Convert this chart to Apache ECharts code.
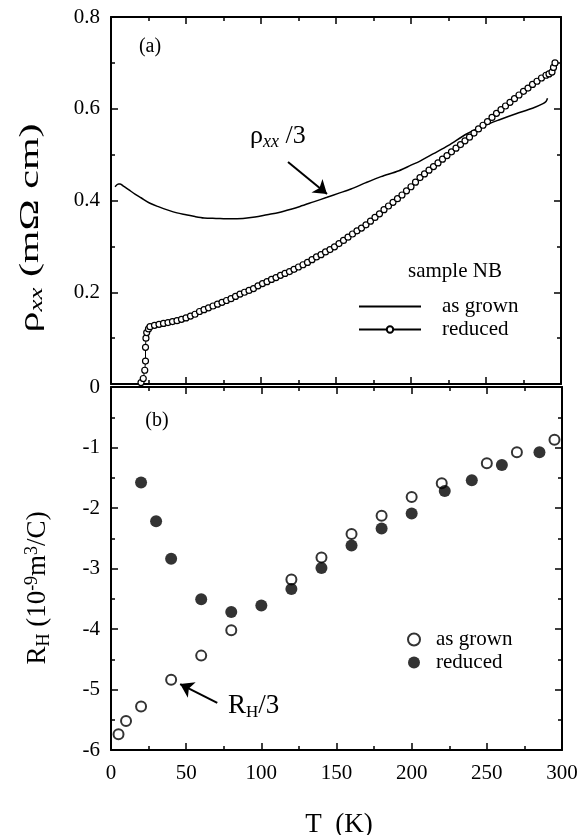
<!DOCTYPE html>
<html>
<head>
<meta charset="utf-8">
<script src="https://cdn.jsdelivr.net/npm/echarts@6/dist/echarts.min.js"></script>
<style>
  html, body { margin: 0; padding: 0; background: #fff; }
  #chart { width: 582px; height: 835px; }
</style>
</head>
<body>
<div id="chart"></div>
<script>
// panel (a): rho_xx vs T
const grownT = [2.7, 5, 6, 8, 12, 16, 20, 26, 32, 38, 44, 50, 56, 62, 70, 80, 88, 96, 104, 112,
  120, 126, 135, 144, 152, 160, 170, 180, 192, 200, 206, 215, 225, 237, 248, 259, 270, 281, 288, 290, 291]
const grownRho = [0.430, 0.436, 0.436, 0.432, 0.423, 0.414, 0.406, 0.394, 0.386, 0.379, 0.373, 0.369,
  0.365, 0.362, 0.361, 0.360, 0.361, 0.364, 0.369, 0.374, 0.381, 0.387, 0.397, 0.407, 0.416, 0.425,
  0.439, 0.452, 0.465, 0.477, 0.486, 0.502, 0.520, 0.545, 0.562, 0.576, 0.589, 0.601, 0.611, 0.616, 0.623]

const reducedT = [20, 21.5, 22.5, 23, 23, 23.3, 23.8, 25, 26, 29, 32, 35, 38, 41, 44, 47, 50, 53, 56, 59,
  62, 65, 68, 71, 74, 77, 80, 83, 86, 89, 92, 95, 98, 101, 104, 107, 110, 113, 116, 119, 122, 125,
  128, 131, 134, 137, 140, 143, 146, 149, 152, 155, 158, 161, 164, 167, 170, 173, 176, 179, 182,
  185, 188, 191, 194, 197, 200, 203, 206, 209, 212, 215, 218, 221, 224, 227, 230, 233, 236, 239,
  242, 245, 248, 251, 254, 257, 260, 263, 266, 269, 272, 275, 278, 281, 284, 287, 290, 292, 294, 295, 296]
const reducedRho = [0.003, 0.012, 0.03, 0.05, 0.08, 0.10, 0.112, 0.120, 0.125, 0.128, 0.130, 0.132,
  0.134, 0.136, 0.138, 0.141, 0.144, 0.148, 0.152, 0.158, 0.162, 0.166, 0.170, 0.174, 0.178, 0.182,
  0.186, 0.191, 0.196, 0.200, 0.204, 0.208, 0.214, 0.219, 0.223, 0.228, 0.232, 0.237, 0.241, 0.245,
  0.250, 0.255, 0.260, 0.265, 0.271, 0.277, 0.282, 0.288, 0.293, 0.299, 0.306, 0.313, 0.320, 0.327,
  0.334, 0.340, 0.347, 0.355, 0.363, 0.371, 0.380, 0.388, 0.396, 0.404, 0.412, 0.421, 0.430, 0.440,
  0.450, 0.458, 0.466, 0.474, 0.482, 0.490, 0.498, 0.506, 0.514, 0.522, 0.530, 0.538, 0.547, 0.556,
  0.564, 0.572, 0.581, 0.590, 0.598, 0.606, 0.614, 0.622, 0.630, 0.638, 0.645, 0.653, 0.660, 0.667,
  0.673, 0.676, 0.680, 0.690, 0.700]

// panel (b): Hall coefficient
const hallGrownT = [5, 10, 20, 40, 60, 80, 120, 140, 160, 180, 200, 220, 250, 270, 295]
const hallGrown = [-5.74, -5.52, -5.28, -4.84, -4.44, -4.02, -3.18, -2.82, -2.43, -2.13, -1.82, -1.59, -1.26, -1.08, -0.87]
const hallReducedT = [20, 30, 40, 60, 80, 100, 120, 140, 160, 180, 200, 222, 240, 260, 285]
const hallReduced = [-1.58, -2.22, -2.84, -3.51, -3.72, -3.61, -3.34, -2.99, -2.62, -2.34, -2.09, -1.72, -1.54, -1.29, -1.08]

const FONT = 'Liberation Serif'
const zip = (xs, ys) => xs.map((x, i) => [x, ys[i]])

const chart = echarts.init(document.getElementById('chart'))

function baseAxis(extra) {
  return Object.assign({
    type: 'value',
    axisLine: { show: true, onZero: false, lineStyle: { color: '#000', width: 2 } },
    axisTick: { show: true, inside: true, length: 7, lineStyle: { color: '#000', width: 1.5 } },
    minorTick: { show: true, splitNumber: 2, length: 4, lineStyle: { color: '#000', width: 1.5 } },
    splitLine: { show: false },
    axisLabel: { show: false }
  }, extra)
}

const labelStyle = { show: true, color: '#000', fontFamily: FONT, fontSize: 21 }

const option = {
  animation: false,
  backgroundColor: '#fff',
  grid: [
    { left: 111, right: 21, top: 17, height: 367 },
    { left: 111, right: 20, top: 387, height: 363 }
  ],
  xAxis: [
    baseAxis({ gridIndex: 0, position: 'bottom', min: 0, max: 300, interval: 50 }),
    baseAxis({ gridIndex: 0, position: 'top', min: 0, max: 300, interval: 50 }),
    baseAxis({ gridIndex: 1, position: 'bottom', min: 0, max: 300, interval: 50,
      axisLabel: Object.assign({}, labelStyle, { margin: 13 }) }),
    baseAxis({ gridIndex: 1, position: 'top', min: 0, max: 300, interval: 50 })
  ],
  yAxis: [
    baseAxis({ gridIndex: 0, position: 'left', min: 0, max: 0.8, interval: 0.2,
      axisLabel: Object.assign({}, labelStyle, { margin: 11, showMinLabel: false }) }),
    baseAxis({ gridIndex: 0, position: 'right', min: 0, max: 0.8, interval: 0.2 }),
    baseAxis({ gridIndex: 1, position: 'left', min: -6, max: 0, interval: 1,
      axisLabel: Object.assign({}, labelStyle, { margin: 11 }) }),
    baseAxis({ gridIndex: 1, position: 'right', min: -6, max: 0, interval: 1 })
  ],
  legend: [
    {
      orient: 'vertical', left: 353, top: 291,
      itemWidth: 62, itemHeight: 8, itemGap: 2,
      selectedMode: false,
      data: [
        { name: 'as grown', itemStyle: { color: 'rgba(0,0,0,0)', borderWidth: 0 } },
        { name: 'reduced' }
      ],
      textStyle: { color: '#000', fontFamily: FONT, fontSize: 21, padding: [0, 0, 0, 16] }
    },
    {
      orient: 'vertical', left: 402, top: 624,
      itemWidth: 12, itemHeight: 12, itemGap: 2,
      selectedMode: false,
      data: ['RH as grown', 'RH reduced'],
      formatter: (name) => name.replace('RH ', ''),
      textStyle: { color: '#000', fontFamily: FONT, fontSize: 21, padding: [0, 0, 0, 11] }
    }
  ],
  series: [
    {
      name: 'as grown', type: 'line', xAxisIndex: 0, yAxisIndex: 0,
      data: zip(grownT, grownRho), symbol: 'none', smooth: 0.3,
      lineStyle: { color: '#000', width: 1.5 },
      itemStyle: { color: '#000' },
      markLine: {
        silent: true, symbol: ['none', 'arrow'], symbolSize: 13,
        label: { show: false },
        lineStyle: { color: '#000', width: 2, type: 'solid' },
        data: [[{ coord: [118, 0.484] }, { coord: [144, 0.414] }]]
      }
    },
    {
      name: 'reduced', type: 'line', xAxisIndex: 0, yAxisIndex: 0,
      data: zip(reducedT, reducedRho), symbol: 'circle', symbolSize: 6, showAllSymbol: true,
      lineStyle: { color: '#000', width: 1 },
      itemStyle: { color: '#fff', borderColor: '#000', borderWidth: 1.2 }
    },
    {
      name: 'RH as grown', type: 'scatter', xAxisIndex: 2, yAxisIndex: 2,
      data: zip(hallGrownT, hallGrown), symbol: 'circle', symbolSize: 10,
      itemStyle: { color: '#fff', borderColor: '#000', borderWidth: 2 },
      markLine: {
        silent: true, symbol: ['none', 'arrow'], symbolSize: 13,
        label: { show: false },
        lineStyle: { color: '#000', width: 2, type: 'solid' },
        data: [[{ coord: [70.7, -5.22] }, { coord: [46, -4.91] }]]
      }
    },
    {
      name: 'RH reduced', type: 'scatter', xAxisIndex: 2, yAxisIndex: 2,
      data: zip(hallReducedT, hallReduced), symbol: 'circle', symbolSize: 12,
      itemStyle: { color: '#000' }
    }
  ],
  graphic: [
    // axis titles
    {
      type: 'text', x: 31, y: 228, rotation: Math.PI / 2, scaleX: 1.5,
      style: {
        text: '{a|ρ}{s|xx}{a| (mΩ cm)}',
        align: 'center', verticalAlign: 'middle', fill: '#000',
        rich: {
          a: { fontFamily: FONT, fontSize: 28, lineHeight: 30 },
          s: { fontFamily: FONT, fontSize: 18, fontStyle: 'italic', verticalAlign: 'bottom', lineHeight: 16 }
        }
      }
    },
    {
      type: 'text', x: 38, y: 588, rotation: Math.PI / 2,
      style: {
        text: '{a|R}{h|H}{a| (10}{p|-9}{a|m}{p|3}{a|/C)}',
        align: 'center', verticalAlign: 'middle', fill: '#000',
        rich: {
          a: { fontFamily: FONT, fontSize: 27, lineHeight: 30 },
          h: { fontFamily: FONT, fontSize: 18, verticalAlign: 'bottom', lineHeight: 14 },
          p: { fontFamily: FONT, fontSize: 18, verticalAlign: 'top', lineHeight: 14 }
        }
      }
    },
    {
      type: 'text', x: 339, y: 825,
      style: { text: 'T  (K)', font: '27px ' + FONT, fill: '#000', align: 'center', verticalAlign: 'middle' }
    },
    // annotations
    {
      type: 'text', x: 150, y: 47,
      style: { text: '(a)', font: '20px ' + FONT, fill: '#000', align: 'center', verticalAlign: 'middle' }
    },
    {
      type: 'text', x: 157, y: 421,
      style: { text: '(b)', font: '20px ' + FONT, fill: '#000', align: 'center', verticalAlign: 'middle' }
    },
    {
      type: 'text', x: 250, y: 136,
      style: {
        text: '{a|ρ}{s|xx}{a| /3}',
        align: 'left', verticalAlign: 'middle', fill: '#000',
        rich: {
          a: { fontFamily: FONT, fontSize: 26, lineHeight: 30 },
          s: { fontFamily: FONT, fontSize: 18, fontStyle: 'italic', verticalAlign: 'bottom', lineHeight: 16 }
        }
      }
    },
    {
      type: 'text', x: 228, y: 706,
      style: {
        text: '{a|R}{h|H}{a|/3}',
        align: 'left', verticalAlign: 'middle', fill: '#000',
        rich: {
          a: { fontFamily: FONT, fontSize: 27, lineHeight: 30 },
          h: { fontFamily: FONT, fontSize: 17, verticalAlign: 'bottom', lineHeight: 14 }
        }
      }
    },
    {
      type: 'text', x: 408, y: 271,
      style: { text: 'sample NB', font: '21px ' + FONT, fill: '#000', align: 'left', verticalAlign: 'middle' }
    }
  ]
}

chart.setOption(option)
</script>
</body>
</html>
